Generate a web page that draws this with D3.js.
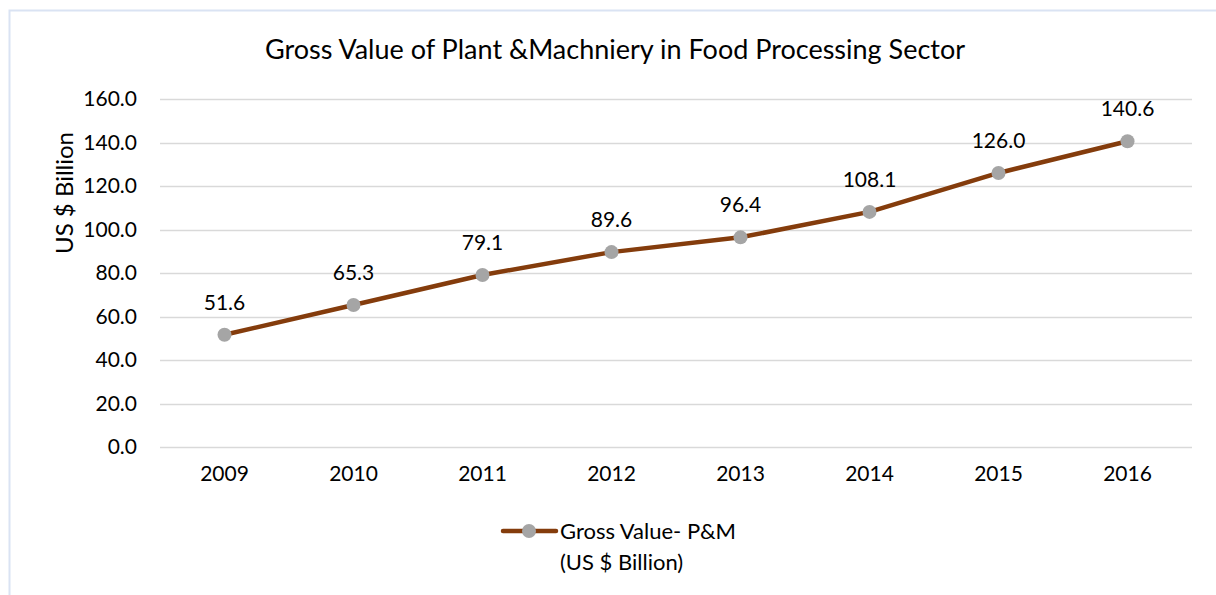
<!DOCTYPE html>
<html>
<head>
<meta charset="utf-8">
<script src="https://cdn.jsdelivr.net/npm/d3@7"></script>
<style>
  html, body { margin: 0; padding: 0; background: #fff; }
  svg { display: block; font-family: Lato, "Open Sans", sans-serif; }
</style>
</head>
<body>
<svg id="chart" width="1216" height="595"></svg>
<script>
const years = ["2009", "2010", "2011", "2012", "2013", "2014", "2015", "2016"];
const grossValue = [51.6, 65.3, 79.1, 89.6, 96.4, 108.1, 126.0, 140.6];
const yTicks = [0, 20, 40, 60, 80, 100, 120, 140, 160];
const titleText = "Gross Value of Plant &Machniery in Food Processing Sector";
const yAxisTitle = "US $ Billion";
const legendLines = ["Gross Value- P&M", "(US $ Billion)"];

const svg = d3.select("#chart");
const W = 1216, H = 595;
const FONT = "Lato, 'Open Sans', sans-serif";

// chart frame
svg.append("rect").attr("x", 9.5).attr("y", 10.5).attr("width", W + 20).attr("height", H + 20)
  .attr("fill", "#fff").attr("stroke", "#dae3f3").attr("stroke-width", 2);

const plot = { left: 160, right: 1192, top: 99, bottom: 447 };

const x = d3.scaleBand().domain(years).range([plot.left, plot.right]);
const y = d3.scaleLinear().domain([0, 160]).range([plot.bottom, plot.top]);

// gridlines
svg.append("g").selectAll("line").data(yTicks).join("line")
  .attr("x1", plot.left).attr("x2", plot.right)
  .attr("y1", d => Math.round(y(d)) + 0.5).attr("y2", d => Math.round(y(d)) + 0.5)
  .attr("stroke", "#d9d9d9").attr("stroke-width", 1.5);

// y axis
const yAxis = d3.axisLeft(y).tickValues(yTicks).tickFormat(d3.format(".1f")).tickSize(0).tickPadding(23);
const gy = svg.append("g").attr("transform", `translate(${plot.left},0)`).call(yAxis);
gy.select(".domain").remove();
gy.selectAll("text").attr("font-size", 21).attr("fill", "#000").attr("font-family", FONT);

// x axis
const xAxis = d3.axisBottom(x).tickSize(0).tickPadding(19);
const gx = svg.append("g").attr("transform", `translate(0,${plot.bottom})`).call(xAxis);
gx.select(".domain").remove();
gx.selectAll("text").attr("font-size", 21).attr("fill", "#000").attr("font-family", FONT);

// line
const cx = d => x(d) + x.bandwidth() / 2;
const line = d3.line().x((d, i) => cx(years[i])).y(d => y(d));
svg.append("path").datum(grossValue).attr("d", line)
  .attr("fill", "none").attr("stroke", "#843c0c").attr("stroke-width", 4.5)
  .attr("stroke-linejoin", "round").attr("stroke-linecap", "round");

// markers
svg.append("g").selectAll("circle").data(grossValue).join("circle")
  .attr("cx", (d, i) => cx(years[i])).attr("cy", d => y(d)).attr("r", 7)
  .attr("fill", "#a5a5a5");

// data labels
svg.append("g").selectAll("text").data(grossValue).join("text")
  .attr("x", (d, i) => cx(years[i])).attr("y", d => y(d) - 25)
  .attr("text-anchor", "middle").attr("font-size", 21).attr("fill", "#000")
  .text(d => d3.format(".1f")(d));

// title
svg.append("text").attr("x", 615).attr("y", 59).attr("text-anchor", "middle")
  .attr("font-size", 27).attr("fill", "#000").text(titleText);

// y axis title
svg.append("text").attr("transform", `translate(73,${(plot.top + plot.bottom) / 2 - 80}) rotate(-90)`)
  .attr("text-anchor", "middle").attr("font-size", 24).attr("fill", "#000").text(yAxisTitle);

// legend
const lg = svg.append("g");
lg.append("line").attr("x1", 503).attr("x2", 556).attr("y1", 531).attr("y2", 531)
  .attr("stroke", "#843c0c").attr("stroke-width", 4.5).attr("stroke-linecap", "round");
lg.append("circle").attr("cx", 529).attr("cy", 531).attr("r", 7).attr("fill", "#a5a5a5");
lg.selectAll("text").data(legendLines).join("text")
  .attr("x", 560).attr("y", (d, i) => 539 + i * 31)
  .attr("font-size", 22).attr("fill", "#000").text(d => d);
</script>
</body>
</html>
